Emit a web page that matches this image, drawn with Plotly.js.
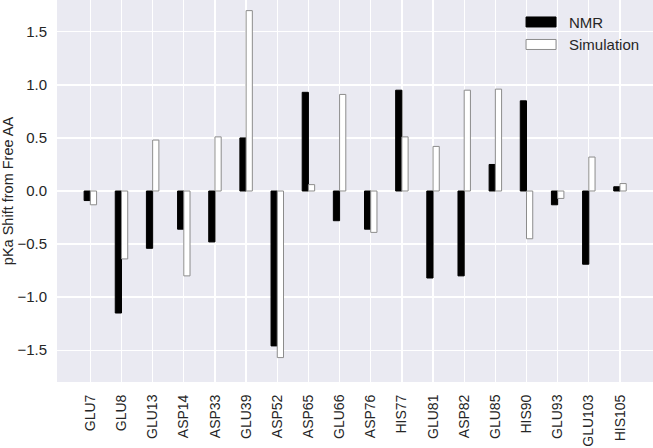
<!DOCTYPE html>
<html>
<head>
<meta charset="utf-8">
<script src="https://cdn.plot.ly/plotly-3.0.1.min.js"></script>
<style>html,body{margin:0;padding:0;background:#fff;}#chart{width:653px;height:448px;}</style>
</head>
<body>
<div id="chart"></div>
<script>
const residues = ["GLU7","GLU8","GLU13","ASP14","ASP33","GLU39","ASP52","ASP65","GLU66","ASP76","HIS77","GLU81","ASP82","GLU85","HIS90","GLU93","GLU103","HIS105"];
const nmrShift = [-0.09,-1.15,-0.54,-0.36,-0.48,0.50,-1.46,0.93,-0.28,-0.36,0.95,-0.82,-0.80,0.25,0.85,-0.13,-0.69,0.04];
const simShift = [-0.13,-0.64,0.48,-0.80,0.51,1.70,-1.57,0.06,0.91,-0.39,0.51,0.42,0.95,0.96,-0.45,-0.07,0.32,0.07];
const yTicks = [-1.5,-1.0,-0.5,0.0,0.5,1.0,1.5];

const font = {family: "'Liberation Sans', Arial, sans-serif", size: 15, color: "#262626"};

const traces = [
  {type: "bar", name: "NMR", x: residues, y: nmrShift,
   marker: {color: "#000000", line: {color: "#000000", width: 1}}},
  {type: "bar", name: "Simulation", x: residues, y: simShift,
   marker: {color: "#ffffff", line: {color: "#8c8c8c", width: 1}}}
];

const layout = {
  width: 653, height: 448,
  margin: {l: 57, r: 0, t: 0, b: 66},
  paper_bgcolor: "#ffffff",
  plot_bgcolor: "#EAEAF2",
  font: font,
  barmode: "group",
  bargap: 0.6,
  bargroupgap: 0,
  showlegend: true,
  legend: {x: 0.792, y: 0.985, xanchor: "left", yanchor: "top",
           bgcolor: "rgba(0,0,0,0)", font: {family: font.family, size: 15, color: "#262626"}},
  xaxis: {
    type: "category",
    range: [-1.07, 18.06],
    showgrid: true, gridcolor: "#ffffff", gridwidth: 1.3,
    zeroline: false, showline: false,
    tickangle: -90,
    ticks: "outside", ticklen: 6, tickcolor: "rgba(0,0,0,0)",
    tickfont: {family: font.family, size: 14, color: "#262626"}
  },
  yaxis: {
    range: [-1.8, 1.8],
    tickvals: yTicks,
    ticktext: yTicks.map(v => (v < 0 ? "\u2212" : "") + Math.abs(v).toFixed(1)),
    showgrid: true, gridcolor: "#ffffff", gridwidth: 1.3,
    zeroline: false, showline: false,
    ticks: "outside", ticklen: 6, tickcolor: "rgba(0,0,0,0)",
    tickfont: {family: font.family, size: 15, color: "#262626"},
    title: {text: "pKa Shift from Free AA", font: {family: font.family, size: 14.5, color: "#262626"}, standoff: 6}
  }
};

Plotly.newPlot("chart", traces, layout, {displayModeBar: false, staticPlot: true}).then(gd => {
  // widen legend swatches to match the reference's wide rectangles
  gd.querySelectorAll(".legend .legendpoints path").forEach(p => {
    p.setAttribute("d", "M7,5H-23V-5H7Z");
  });
  const sc = gd.querySelector(".legend .scrollbox");
  if (sc) sc.removeAttribute("clip-path");
});
</script>
</body>
</html>
